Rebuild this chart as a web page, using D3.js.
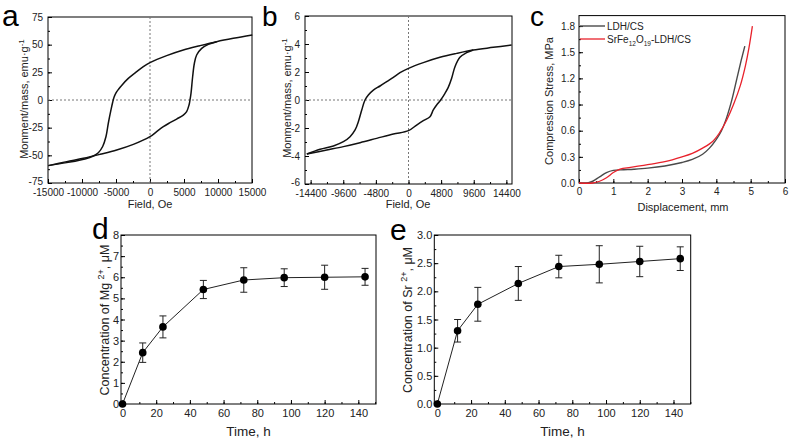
<!DOCTYPE html>
<html><head><meta charset="utf-8">
<script src="https://cdn.jsdelivr.net/npm/d3@7"></script>
<style>body{margin:0;background:#fff;} svg{display:block;font-family:"Liberation Sans",Arial,sans-serif;}</style>
</head><body><svg id="c" width="789" height="441"></svg>
<script>
// ---------- Panel a: hysteresis loop (Field Oe, emu/g) ----------
const aUpper = [[-14950,-59.3],[-12250,-56.6],[-9560,-53.3],[-8330,-50.6],[-7600,-47.6],[-6960,-42],[-6470,-33],[-6130,-21],[-5740,-9],[-5490,-2],[-5290,2.5],[-5000,6.5],[-4600,10],[-4170,13.2],[-3190,19.5],[-1960,25.6],[-980,30.1],[0,33.7],[2450,40.1],[4900,45.2],[7350,49.1],[9800,52.7],[12250,55.7],[15040,58.7]];
const aLower = [[-14950,-59.3],[-12250,-55.7],[-9800,-52.7],[-7350,-49.1],[-4900,-45.2],[-2450,-40.1],[0,-33.1],[980,-28.6],[1960,-24.1],[2940,-20.5],[3920,-17.2],[4900,-13.6],[5390,-10.5],[5740,-4.5],[5880,0],[6030,6],[6270,21],[6520,33],[6860,40.7],[7600,46.7],[8580,50.3],[9800,52.7]];
const aXTicks = [-15000,-10000,-5000,0,5000,10000,15000];
const aYTicks = [-75,-50,-25,0,25,50,75];

// ---------- Panel b ----------
const bUpper = [[-14960,-3.86],[-13000,-3.52],[-11050,-3.28],[-9580,-2.98],[-8600,-2.62],[-7860,-2.14],[-7380,-1.55],[-6880,-0.71],[-6400,0],[-5910,0.36],[-5170,0.71],[-4190,1.0],[-3200,1.31],[-2230,1.62],[-1250,1.95],[0,2.26],[2180,2.67],[4630,3.05],[7080,3.33],[9530,3.57],[12470,3.76],[15170,3.93]];
const bLower = [[-14960,-3.86],[-12020,-3.57],[-9580,-3.33],[-7130,-3.05],[-4680,-2.74],[-2230,-2.43],[0,-2.19],[1200,-1.79],[2180,-1.48],[3160,-1.19],[3650,-0.71],[4140,-0.36],[4730,0],[5370,0.48],[5850,0.9],[6350,1.55],[6840,2.38],[7570,3.05],[8550,3.38],[9530,3.57]];
const bXTicks = [-14400,-9600,-4800,0,4800,9600,14400];
const bYTicks = [-6,-4,-2,0,2,4,6];

// ---------- Panel c: compression ----------
const cLDH = [[0,0],[0.25,0],[0.4,0.02],[0.6,0.07],[0.8,0.12],[1.0,0.145],[1.3,0.152],[1.6,0.158],[2.0,0.17],[2.5,0.195],[3.0,0.235],[3.3,0.27],[3.6,0.33],[3.8,0.4],[4.0,0.5],[4.15,0.6],[4.3,0.75],[4.45,0.95],[4.6,1.2],[4.72,1.4],[4.83,1.57]];
const cSrFe = [[0,0],[0.4,0],[0.6,0.02],[0.8,0.06],[1.0,0.12],[1.2,0.16],[1.5,0.18],[2.0,0.21],[2.5,0.245],[3.0,0.3],[3.3,0.34],[3.6,0.4],[3.9,0.48],[4.1,0.58],[4.3,0.72],[4.5,0.9],[4.7,1.12],[4.85,1.35],[4.95,1.55],[5.05,1.8]];
const cXTicks = [0,1,2,3,4,5,6];
const cYTicks = [0.0,0.3,0.6,0.9,1.2,1.5,1.8];

// ---------- Panels d, e: release ----------
const times = [0,12,24,48,72,96,120,144];
const mgConc = [0,2.43,3.65,5.42,5.87,5.98,6.0,6.02];
const mgErr  = [0,0.46,0.52,0.43,0.58,0.42,0.57,0.40];
const srConc = [0,1.30,1.77,2.14,2.44,2.48,2.53,2.58];
const srErr  = [0,0.20,0.30,0.30,0.20,0.33,0.27,0.21];
const tTicks = [0,20,40,60,80,100,120,140];
const dYTicks = [0,1,2,3,4,5,6,7,8];
const eYTicks = [0.0,0.5,1.0,1.5,2.0,2.5,3.0];

const svg = d3.select("#c");
const intFmt = d => String(d);

function panel(o){
  const x = d3.scaleLinear().domain(o.xd).range(o.xr);
  const y = d3.scaleLinear().domain(o.yd).range(o.yr);
  const g = svg.append("g");
  const fs = o.fs;
  g.append("g").attr("transform",`translate(0,${o.yr[0]})`)
    .call(d3.axisBottom(x).tickValues(o.xMinor).tickSize(-2).tickFormat(""))
    .call(s=>s.select(".domain").remove());
  g.append("g").attr("transform",`translate(${o.xr[0]},0)`)
    .call(d3.axisLeft(y).tickValues(o.yMinor).tickSize(-2).tickFormat(""))
    .call(s=>s.select(".domain").remove());
  const xa = g.append("g").attr("transform",`translate(0,${o.yr[0]})`)
    .call(d3.axisBottom(x).tickValues(o.xTicks).tickSizeInner(-4).tickSizeOuter(0).tickPadding(o.xPad).tickFormat(o.xFmt));
  const ya = g.append("g").attr("transform",`translate(${o.xr[0]},0)`)
    .call(d3.axisLeft(y).tickValues(o.yTicks).tickSizeInner(-4).tickSizeOuter(0).tickPadding(o.yPad).tickFormat(o.yFmt));
  [xa,ya].forEach(a=>{a.select(".domain").remove();a.selectAll("text").attr("font-size",fs).attr("fill","#222").attr("font-family","Liberation Sans, Arial, sans-serif");});
  if(o.liftFirst) ya.selectAll("text").filter(d=>d===o.yTicks[0]).attr("dy","0.12em");
  g.append("rect").attr("x",o.xr[0]).attr("y",o.yr[1]).attr("width",o.xr[1]-o.xr[0]).attr("height",o.yr[0]-o.yr[1])
    .attr("fill","none").attr("stroke","#000").attr("stroke-width",1);
  return {x,y,g};
}
function minor(a,b,s){const r=[];for(let v=a;v<=b+1e-9;v+=s)r.push(+v.toFixed(6));return r;}
function label(txt,x,y,fs){svg.append("text").attr("x",x).attr("y",y).attr("font-size",fs||30).attr("fill","#000").text(txt);}
function xTitle(txt,x,y,fs){svg.append("text").attr("x",x).attr("y",y).attr("text-anchor","middle").attr("font-size",fs).attr("fill","#222").text(txt);}
function yTitle(x,y,fs){return svg.append("text").attr("transform",`translate(${x},${y}) rotate(-90)`).attr("text-anchor","middle").attr("font-size",fs).attr("fill","#222");}

// ===== a =====
{
  const p = panel({xd:[-15000,15000],xr:[48,252],yd:[-75,75],yr:[183,17],fs:10,liftFirst:true,
    xTicks:aXTicks,xMinor:minor(-15000,15000,2500),yTicks:aYTicks,yMinor:minor(-75,75,12.5),xPad:6,yPad:5,xFmt:intFmt,yFmt:intFmt});
  p.g.append("line").attr("x1",p.x(0)).attr("x2",p.x(0)).attr("y1",p.y(75)).attr("y2",p.y(-75)).attr("stroke","#777").attr("stroke-dasharray","2,2");
  p.g.append("line").attr("x1",p.x(-15000)).attr("x2",p.x(15000)).attr("y1",p.y(0)).attr("y2",p.y(0)).attr("stroke","#777").attr("stroke-dasharray","2,2");
  const ln = d3.line().x(d=>p.x(d[0])).y(d=>p.y(d[1])).curve(d3.curveCatmullRom);
  [aUpper,aLower].forEach(s=>p.g.append("path").attr("d",ln(s)).attr("fill","none").attr("stroke","#111").attr("stroke-width",1.5));
  label("a",2,26,30);
  xTitle("Field, Oe",150,208,11);
  const t = yTitle(28,99,11); t.append("tspan").text("Monment/mass, emu·g"); t.append("tspan").attr("dy",-4).attr("font-size",8).text("-1");
}
// ===== b =====
{
  const p = panel({xd:[-15230,15230],xr:[305,512],yd:[-6,6],yr:[184,16],fs:10,liftFirst:true,
    xTicks:bXTicks,xMinor:minor(-14400,14400,2400),yTicks:bYTicks,yMinor:minor(-6,6,1),xPad:6,yPad:5,xFmt:intFmt,yFmt:intFmt});
  p.g.append("line").attr("x1",p.x(0)).attr("x2",p.x(0)).attr("y1",p.y(6)).attr("y2",p.y(-6)).attr("stroke","#777").attr("stroke-dasharray","2,2");
  p.g.append("line").attr("x1",p.x(-15230)).attr("x2",p.x(15230)).attr("y1",p.y(0)).attr("y2",p.y(0)).attr("stroke","#777").attr("stroke-dasharray","2,2");
  const ln = d3.line().x(d=>p.x(d[0])).y(d=>p.y(d[1])).curve(d3.curveCatmullRom);
  [bUpper,bLower].forEach(s=>p.g.append("path").attr("d",ln(s)).attr("fill","none").attr("stroke","#111").attr("stroke-width",1.5));
  label("b",262,26,28);
  xTitle("Field, Oe",408,208,11);
  const t = yTitle(291,98,11); t.append("tspan").text("Monment/mass, emu·g"); t.append("tspan").attr("dy",-4).attr("font-size",8).text("-1");
}
// ===== c =====
{
  const p = panel({xd:[0,6],xr:[579,785],yd:[0,1.92],yr:[183,15.6],fs:10,
    xTicks:cXTicks,xMinor:minor(0,6,0.5),yTicks:cYTicks,yMinor:minor(0,1.8,0.15),xPad:5,yPad:4,xFmt:intFmt,yFmt:d3.format(".1f")});
  const ln = d3.line().x(d=>p.x(d[0])).y(d=>p.y(d[1])).curve(d3.curveCatmullRom);
  p.g.append("path").attr("d",ln(cLDH)).attr("fill","none").attr("stroke","#4a4a4a").attr("stroke-width",1.4);
  p.g.append("path").attr("d",ln(cSrFe)).attr("fill","none").attr("stroke","#e8212b").attr("stroke-width",1.3);
  p.g.append("line").attr("x1",580).attr("x2",605).attr("y1",26).attr("y2",26).attr("stroke","#4a4a4a").attr("stroke-width",1.4);
  p.g.append("line").attr("x1",580).attr("x2",605).attr("y1",39).attr("y2",39).attr("stroke","#e8212b").attr("stroke-width",1.3);
  p.g.append("text").attr("x",607).attr("y",30).attr("font-size",10).attr("fill","#222").text("LDH/CS");
  const lt = p.g.append("text").attr("x",607).attr("y",43).attr("font-size",10).attr("fill","#222");
  lt.append("tspan").text("SrFe"); lt.append("tspan").attr("dy",3).attr("font-size",6.5).text("12");
  lt.append("tspan").attr("dy",-3).text("O"); lt.append("tspan").attr("dy",3).attr("font-size",6.5).text("19");
  lt.append("tspan").attr("dy",-3).text("-LDH/CS");
  label("c",530,26,28);
  xTitle("Displacement, mm",683,211,11);
  yTitle(553,101,11).text("Compression Stress, MPa");
}
// ===== d, e =====
function release(o, vals, errs, lbl, lx, ly, ion, tx, ty){
  const p = panel(o);
  const ln = d3.line().x((d,i)=>p.x(times[i])).y(d=>p.y(d));
  p.g.append("path").attr("d",ln(vals)).attr("fill","none").attr("stroke","#222").attr("stroke-width",1);
  const eg = p.g.append("g").attr("stroke","#222").attr("stroke-width",1);
  vals.forEach((v,i)=>{
    if(errs[i]<=0) return;
    const xx = p.x(times[i]);
    eg.append("line").attr("x1",xx).attr("x2",xx).attr("y1",p.y(v-errs[i])).attr("y2",p.y(v+errs[i]));
    [v-errs[i],v+errs[i]].forEach(e=>eg.append("line").attr("x1",xx-3.5).attr("x2",xx+3.5).attr("y1",p.y(e)).attr("y2",p.y(e)));
  });
  p.g.selectAll("circle").data(vals).join("circle").attr("cx",(d,i)=>p.x(times[i])).attr("cy",d=>p.y(d)).attr("r",3.8).attr("fill","#000");
  label(lbl,lx,ly,30);
  xTitle("Time, h",(o.xr[0]+o.xr[1])/2,436,13.5);
  const t = yTitle(tx,ty,12.5);
  t.append("tspan").text("Concentration of "+ion+" ");
  t.append("tspan").attr("dy",-5).attr("font-size",9).text("2+");
  t.append("tspan").attr("dy",5).text(", μM");
}
release({xd:[-0.9,150.5],xr:[121,376],yd:[0,8],yr:[404,235],fs:11,xTicks:tTicks,xMinor:minor(0,150,10),yTicks:dYTicks,yMinor:minor(0,8,0.5),xPad:5,yPad:2,xFmt:intFmt,yFmt:intFmt},
  mgConc, mgErr, "d", 92, 239, "Mg", 109, 320);
release({xd:[-1.8,150.2],xr:[434.3,690.7],yd:[0,3],yr:[404,235],fs:11,xTicks:tTicks,xMinor:minor(0,150,10),yTicks:eYTicks,yMinor:minor(0,3,0.25),xPad:5,yPad:2,xFmt:intFmt,yFmt:d3.format(".1f")},
  srConc, srErr, "e", 390, 240, "Sr", 412, 320);
</script>
</body></html>
